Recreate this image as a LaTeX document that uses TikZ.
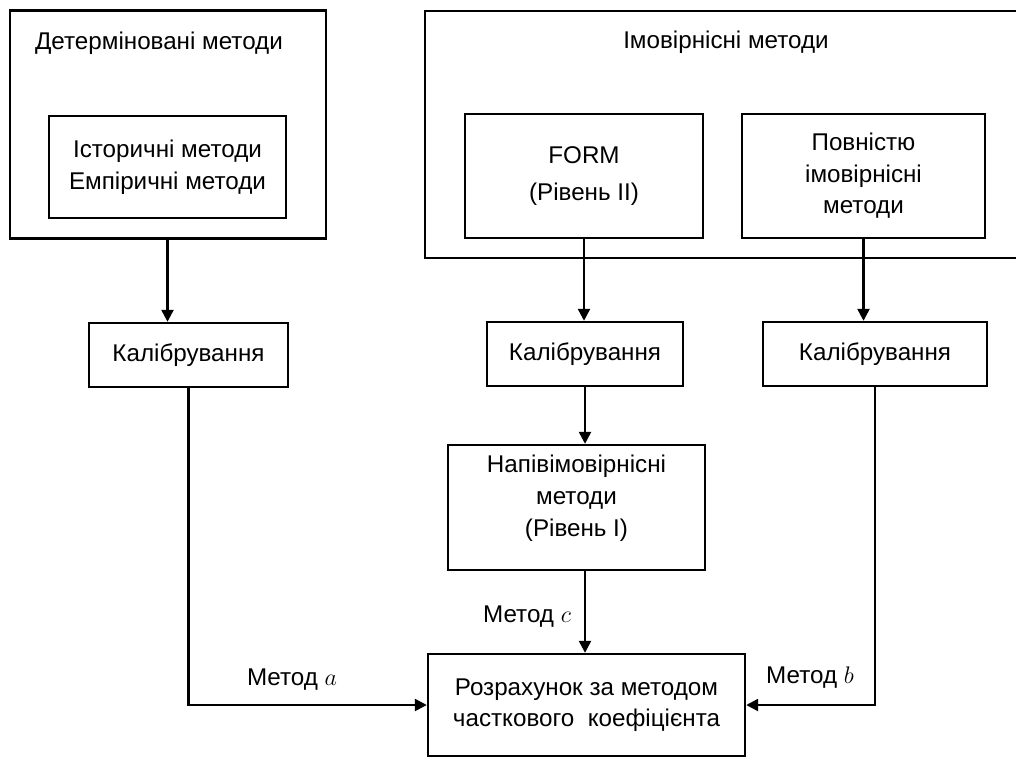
\documentclass[tikz,border=0pt]{standalone}
\usepackage{fontspec}
\setmainfont{Liberation Sans}
\usetikzlibrary{arrows.meta}
\begin{document}
\begin{tikzpicture}[x=0.5pt,y=-0.5pt,
  every node/.style={font=\fontsize{12.1}{15.8}\selectfont},
  box/.style={draw, line width=1.2pt, inner sep=0pt, align=center},
  frame/.style={draw, line width=1.2pt},
  arr/.style={line width=1.2pt, -{Triangle[length=6pt,width=6pt]}},
  lbl/.style={inner sep=1pt}]
\useasboundingbox (0,0) rectangle (1016,760);
% left container
\node[box, minimum width=316*0.5pt, minimum height=228*0.5pt] (detOuter) at (168,124.5) {};
\node[lbl] (detTitle) at (159,43) {Детерміновані методи};
\node[box, minimum width=237*0.5pt, minimum height=102*0.5pt] (hist) at (167.5,167) {Історичні методи\\Емпіричні методи};
% right container (open at right edge)
\coordinate (rtr) at (1016,11);
\coordinate (rbr) at (1016,258);
\draw[frame] (rtr) -- (425,11) -- (425,258) -- (rbr);
\node[lbl] (probTitle) at (726,42) {Імовірнісні методи};
\node[box, minimum width=238*0.5pt, minimum height=124*0.5pt] (form) at (584,176) {FORM\\[3pt](Рівень II)};
\node[box, minimum width=243*0.5pt, minimum height=124*0.5pt] (full) at (863.5,176) {Повністю\\імовірнісні\\методи};
% calibrations
\node[box, minimum width=199*0.5pt, minimum height=64*0.5pt] (cal1) at (188.5,355) {Калібрування};
\node[box, minimum width=196*0.5pt, minimum height=64*0.5pt] (cal2) at (585,354) {Калібрування};
\node[box, minimum width=224*0.5pt, minimum height=64*0.5pt] (cal3) at (875,354) {Калібрування};
\node[box, minimum width=257*0.5pt, minimum height=125*0.5pt] (semi) at (576.5,507.5) {Напівімовірнісні\\методи\\(Рівень I)\\[-4pt]};
\node[box, minimum width=317*0.5pt, minimum height=102*0.5pt] (calc) at (586.5,705) {Розрахунок за методом\\часткового\ \ коефіцієнта};
% connectors
\draw[arr] (hist.center |- detOuter.south) -- (hist.center |- cal1.north);
\draw[arr] (form.south) -- (form.south |- cal2.north);
\draw[arr] (full.south) -- (full.south |- cal3.north);
\draw[arr] (cal2.south) -- (cal2.south |- semi.north);
\draw[arr] (cal2.south |- semi.south) -- (cal2.south |- calc.north);
\draw[arr] (cal1.south) -- (cal1.south |- calc.west) -- (calc.west);
\draw[arr] (cal3.south) -- (cal3.south |- calc.east) -- (calc.east);
% labels
\node[lbl] (la) at (292,680) {Метод $a$};
\node[lbl] (lc) at (527,617) {Метод $c$};
\node[lbl] (lb) at (810,678) {Метод $b$};
\end{tikzpicture}
\end{document}
